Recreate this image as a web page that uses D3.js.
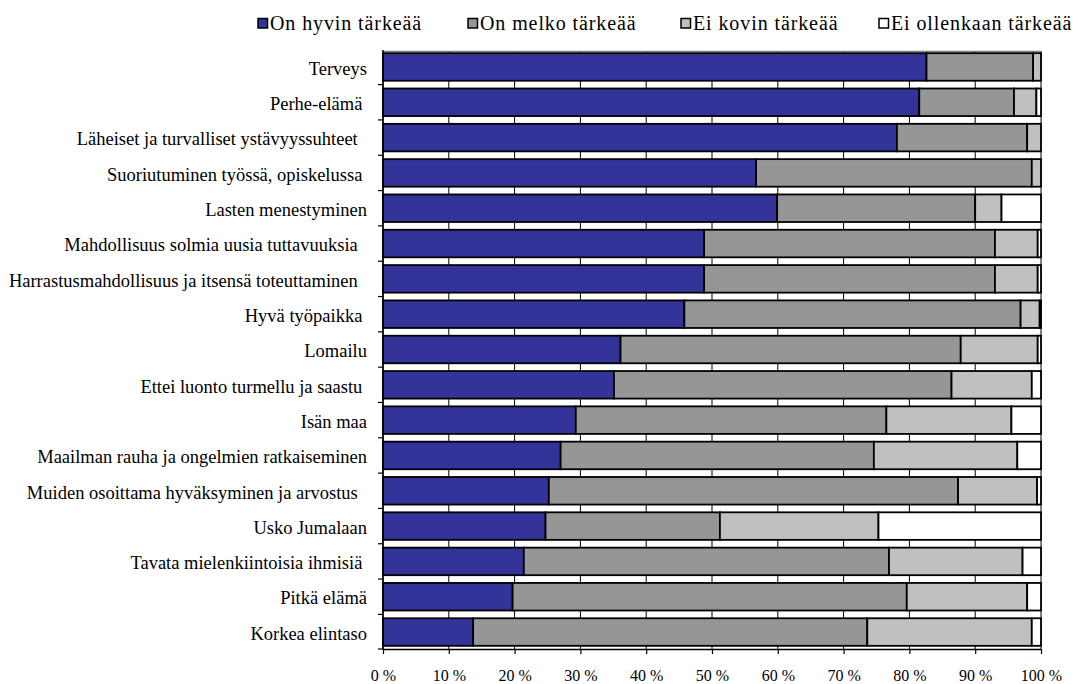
<!DOCTYPE html>
<html>
<head>
<meta charset="utf-8">
<script src="https://cdn.jsdelivr.net/npm/d3@7"></script>
<style>
  html, body { margin: 0; padding: 0; background: #fff; }
  svg { display: block; }
  text { font-family: "Liberation Serif", "Times New Roman", serif; white-space: pre; }
</style>
</head>
<body>
<svg id="chart" width="1077" height="684"></svg>
<script>
// Arvojen tärkeys, prosenttiosuudet vastausvaihtoehdoittain
const categories = [
  "Terveys",
  "Perhe-elämä ",
  "Läheiset ja turvalliset ystävyyssuhteet  ",
  "Suoriutuminen työssä, opiskelussa ",
  "Lasten menestyminen",
  "Mahdollisuus solmia uusia tuttavuuksia  ",
  "Harrastusmahdollisuus ja itsensä toteuttaminen  ",
  "Hyvä työpaikka ",
  "Lomailu",
  "Ettei luonto turmellu ja saastu ",
  "Isän maa",
  "Maailman rauha ja ongelmien ratkaiseminen",
  "Muiden osoittama hyväksyminen ja arvostus  ",
  "Usko Jumalaan",
  "Tavata mielenkiintoisia ihmisiä ",
  "Pitkä elämä",
  "Korkea elintaso"
];

const seriesNames = ["On hyvin tärkeää", "On melko tärkeää", "Ei kovin tärkeää", "Ei ollenkaan tärkeää"];

const hyvinTarkea     = [82.6, 81.5, 78.1, 56.7, 59.9, 48.8, 48.8, 45.8, 36.1, 35.1, 29.3, 27.0, 25.2, 24.7, 21.4, 19.7, 13.7];
const melkoTarkea     = [16.2, 14.4, 19.8, 41.9, 30.1, 44.2, 44.2, 51.1, 51.7, 51.3, 47.2, 47.6, 62.2, 26.5, 55.5, 59.9, 59.9];
const eiKovinTarkea   = [ 1.2,  3.4,  2.1,  1.4,  4.0,  6.5,  6.5,  2.9, 11.7, 12.2, 19.0, 21.8, 12.0, 24.1, 20.3, 18.3, 25.0];
const eiOllenkaan     = [ 0.0,  0.7,  0.0,  0.0,  6.0,  0.5,  0.5,  0.2,  0.5,  1.4,  4.5,  3.6,  0.6, 24.7,  2.8,  2.1,  1.4];

const xTicks = [0, 10, 20, 30, 40, 50, 60, 70, 80, 90, 100];

const colors = ["#333399", "#969696", "#c0c0c0", "#ffffff"];

// Taulukko pinottavaksi
const rows = categories.map((c, i) => ({
  cat: c,
  [seriesNames[0]]: hyvinTarkea[i],
  [seriesNames[1]]: melkoTarkea[i],
  [seriesNames[2]]: eiKovinTarkea[i],
  [seriesNames[3]]: eiOllenkaan[i]
}));

const svg = d3.select("#chart");
const plotLeft = 383, plotRight = 1041, plotTop = 50, plotBottom = 649;
const serif = "Liberation Serif, Times New Roman, serif";

const x = d3.scaleLinear().domain([0, 100]).range([plotLeft, plotRight]);
const y = d3.scaleBand().domain(categories).range([plotTop, plotBottom])
  .paddingInner(0.22).paddingOuter(0.09);

// Pystysuorat apuviivat
svg.append("g")
  .selectAll("line")
  .data(xTicks)
  .join("line")
  .attr("x1", d => x(d)).attr("x2", d => x(d))
  .attr("y1", plotTop + 1.5).attr("y2", plotBottom)
  .attr("stroke", "#000").attr("stroke-width", 1);

// Kehyksen ylä- ja oikea reuna
svg.append("path")
  .attr("d", `M${plotLeft},${plotTop + 1.5}H${plotRight}V${plotBottom}`)
  .attr("fill", "none").attr("stroke", "#808080").attr("stroke-width", 1.5);

// Pinotut palkit
const stack = d3.stack().keys(seriesNames);
const stacked = stack(rows);

svg.append("g")
  .selectAll("g")
  .data(stacked)
  .join("g")
  .attr("fill", (d, i) => colors[i])
  .selectAll("rect")
  .data(d => d.filter(p => p[1] - p[0] > 0))
  .join("rect")
  .attr("x", d => x(d[0]))
  .attr("width", d => x(d[1]) - x(d[0]))
  .attr("y", d => y(d.data.cat))
  .attr("height", y.bandwidth())
  .attr("stroke", "#000")
  .attr("stroke-width", 1.8);

// Vaaka-akseli
const xAxis = d3.axisBottom(x)
  .tickValues(xTicks)
  .tickFormat(d => d + " %")
  .tickSizeInner(5).tickSizeOuter(0).tickPadding(16);

const gx = svg.append("g")
  .attr("transform", `translate(0,${plotBottom})`)
  .call(xAxis)
  .attr("font-family", serif);
gx.select(".domain").attr("stroke", "#000").attr("stroke-width", 1.5);
gx.selectAll(".tick line").attr("stroke", "#000").attr("stroke-width", 1.2);
gx.selectAll(".tick text")
  .attr("font-family", serif)
  .attr("font-size", 16).attr("fill", "#000");

// Pystyakseli: viiva ja väliviivat palkkien välissä
const halfGap = y.step() * y.paddingInner() / 2;
const boundaries = categories.slice(1).map(c => y(c) - halfGap).concat([plotBottom]);
svg.append("line")
  .attr("x1", plotLeft).attr("x2", plotLeft)
  .attr("y1", plotTop).attr("y2", plotBottom)
  .attr("stroke", "#000").attr("stroke-width", 1.5);
svg.append("g")
  .selectAll("line")
  .data(boundaries)
  .join("line")
  .attr("x1", plotLeft - 5).attr("x2", plotLeft)
  .attr("y1", d => d).attr("y2", d => d)
  .attr("stroke", "#000").attr("stroke-width", 1.2);

// Luokkien nimet
svg.append("g")
  .selectAll("text")
  .data(categories)
  .join("text")
  .attr("x", 367)
  .attr("y", d => y(d) + y.bandwidth() / 2)
  .attr("dy", "0.42em")
  .attr("text-anchor", "end")
  .attr("font-family", serif)
  .attr("font-size", 18.5)
  .attr("fill", "#000")
  .text(d => d);

// Selite
const legendX = [258, 468, 681, 879];
const legend = svg.append("g")
  .selectAll("g")
  .data(seriesNames)
  .join("g")
  .attr("transform", (d, i) => `translate(${legendX[i]},23.5)`);
legend.append("rect")
  .attr("x", 0).attr("y", -5)
  .attr("width", 9.5).attr("height", 9.5)
  .attr("fill", (d, i) => colors[i])
  .attr("stroke", "#000").attr("stroke-width", 1.5);
legend.append("text")
  .attr("x", 12).attr("y", 0)
  .attr("dy", "0.33em")
  .attr("font-family", serif)
  .attr("font-size", 20)
  .attr("letter-spacing", 0.9)
  .attr("fill", "#000")
  .text(d => d);
</script>
</body>
</html>
